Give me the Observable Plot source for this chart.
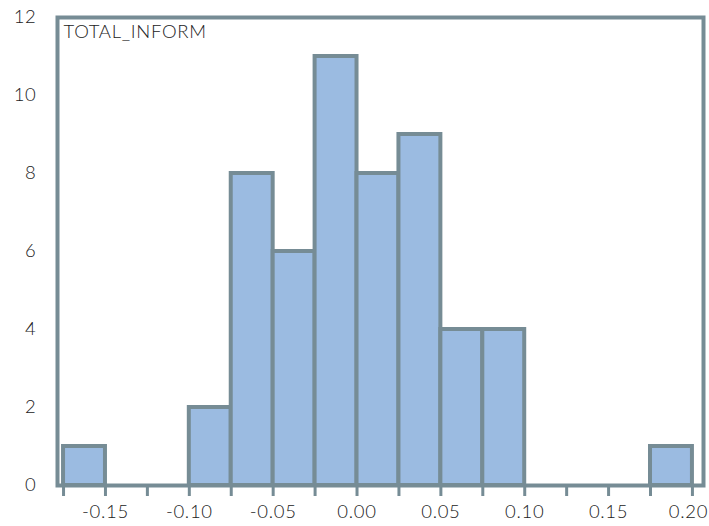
<!DOCTYPE html>
<html>
<head>
<meta charset="utf-8">
<script src="https://cdn.jsdelivr.net/npm/d3@7"></script>
<script src="https://cdn.jsdelivr.net/npm/@observablehq/plot@0.6"></script>
<style>
  html, body { margin: 0; padding: 0; background: #fff; }
  #chart svg { display: block; }
</style>
</head>
<body>
<div id="chart"></div>
<script>
const binStart = [-0.175, -0.100, -0.075, -0.050, -0.025, 0.000, 0.025, 0.050, 0.075, 0.175];
const binEnd   = [-0.150, -0.075, -0.050, -0.025,  0.000, 0.025, 0.050, 0.075, 0.100, 0.200];
const counts   = [1, 2, 8, 6, 11, 8, 9, 4, 4, 1];
const xTicks = [-0.175, -0.15, -0.125, -0.10, -0.075, -0.05, -0.025, 0, 0.025, 0.05, 0.075, 0.10, 0.125, 0.15, 0.175, 0.20];
const xLabels = [-0.15, -0.10, -0.05, 0, 0.05, 0.10, 0.15];
const xLastLabel = [0.20];
const yTicks = [0, 2, 4, 6, 8, 10, 12];
const seriesName = "TOTAL_INFORM";

const bins = binStart.map((s, i) => ({x1: s, x2: binEnd[i], y: counts[i]}));
const strokeC = "#768c95";
const fillC = "#9bbbe1";
const fmt = d => xLabels.some(v => Math.abs(v - d) < 1e-9) ? d.toFixed(2) : "";

const plot = Plot.plot({
  width: 709,
  height: 526,
  marginLeft: 57,
  marginRight: 6,
  marginTop: 17,
  marginBottom: 41,
  style: {fontFamily: "Lato, 'Open Sans', sans-serif", fontSize: "18.5px", fontWeight: 300, letterSpacing: "0.7px", color: "#222", background: "#fff"},
  x: {domain: [-0.1786, 0.2066]},
  y: {domain: [0, 12]},
  marks: [
    Plot.rectY(bins, {x1: "x1", x2: "x2", y: "y", fill: fillC, stroke: strokeC, strokeWidth: 4, inset: 0}),
    Plot.frame({stroke: strokeC, strokeWidth: 4}),
    Plot.axisX({ticks: xTicks, tickFormat: fmt, tickSize: 11, tickPadding: 8, stroke: strokeC, strokeWidth: 3, fill: "#222", label: null}),
    Plot.axisX({ticks: xLastLabel, tickFormat: d => d.toFixed(2), tickSize: 0, tickPadding: 19, dx: -4, fill: "#222", label: null}),
    Plot.axisY({ticks: yTicks, tickSize: 0, tickPadding: 21, label: null, fill: "#222"}),
    Plot.text([seriesName], {text: d => d, frameAnchor: "top-left", dx: 6, dy: 7, fontSize: 18.5, fontWeight: 300, fill: "#222", textAnchor: "start", lineAnchor: "top"})
  ]
});
document.getElementById("chart").appendChild(plot);
</script>
</body>
</html>
